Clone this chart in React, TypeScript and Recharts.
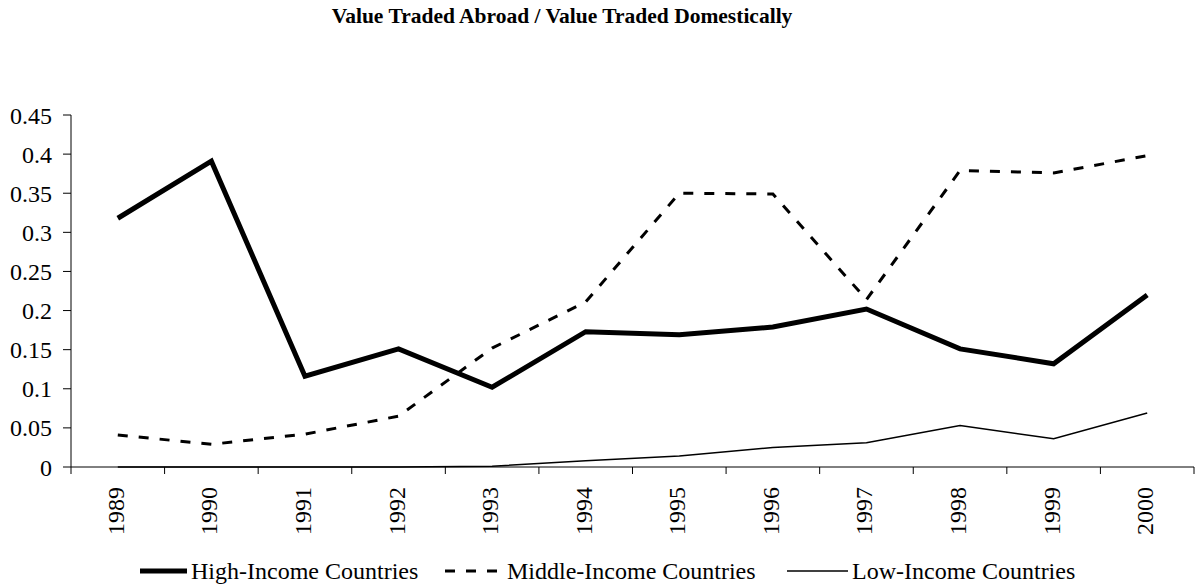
import { LineChart, Line, XAxis, YAxis } from "recharts";

const years = ["1989", "1990", "1991", "1992", "1993", "1994", "1995", "1996", "1997", "1998", "1999", "2000"];
const highIncome = [0.318, 0.391, 0.116, 0.151, 0.102, 0.173, 0.169, 0.179, 0.202, 0.151, 0.132, 0.22];
const middleIncome = [0.041, 0.029, 0.042, 0.065, 0.152, 0.211, 0.35, 0.349, 0.214, 0.379, 0.376, 0.398];
const lowIncome = [0, 0, 0, 0, 0.001, 0.008, 0.014, 0.025, 0.031, 0.053, 0.036, 0.069];
const yTicks = [0, 0.05, 0.1, 0.15, 0.2, 0.25, 0.3, 0.35, 0.4, 0.45];

const seriesMeta = [
  { key: "high", label: "High-Income Countries", width: 5, dash: undefined as string | undefined, sample: 47, left: 140 },
  { key: "middle", label: "Middle-Income Countries", width: 3, dash: "10 11", sample: 53, left: 445 },
  { key: "low", label: "Low-Income Countries", width: 1.5, dash: undefined as string | undefined, sample: 61, left: 787 },
];

// x sits in the middle of each category band, boundaries get the tick marks
const data = years.map((year, i) => ({
  x: i + 0.5,
  year,
  high: highIncome[i],
  middle: middleIncome[i],
  low: lowIncome[i],
}));

const xTicks: number[] = [];
for (let i = 0; i <= years.length * 2; i++) xTicks.push(i / 2);

const FONT = "'Liberation Serif', 'Times New Roman', serif";

function XTick(props: any) {
  const { x, y, payload } = props;
  const v = payload.value as number;
  if (Number.isInteger(v)) {
    return <line x1={x} x2={x} y1={y} y2={y + 7} stroke="#000" strokeWidth={1} />;
  }
  const label = years[Math.floor(v)];
  return (
    <text
      x={0}
      y={0}
      transform={`translate(${x + 6},${y + 20}) rotate(-90)`}
      textAnchor="end"
      fontSize={24}
      fontFamily={FONT}
      fill="#000"
    >
      {label}
    </text>
  );
}

function LegendRow() {
  return (
    <>
      {seriesMeta.map((s) => (
        <div
          key={s.key}
          style={{
            position: "absolute",
            left: s.left,
            top: 558,
            height: 26,
            display: "flex",
            alignItems: "center",
            fontFamily: FONT,
            fontSize: 24,
            lineHeight: "26px",
            color: "#000",
            whiteSpace: "nowrap",
          }}
        >
          <svg width={s.sample} height={10} style={{ display: "block" }}>
            <line x1={0} x2={s.sample} y1={5} y2={5} stroke="#000" strokeWidth={s.width} strokeDasharray={s.dash} />
          </svg>
          <span style={{ marginLeft: s.key === "middle" ? 9 : 4 }}>{s.label}</span>
        </div>
      ))}
    </>
  );
}

export default function App() {
  return (
    <div style={{ position: "absolute", left: 0, top: 0, width: 1195, height: 584, background: "#fff", overflow: "hidden" }}>
      <div
        style={{
          position: "absolute",
          left: 0,
          width: 1124,
          top: 4,
          textAlign: "center",
          fontFamily: FONT,
          fontWeight: "bold",
          fontSize: 21.5,
          color: "#000",
        }}
      >
        Value Traded Abroad / Value Traded Domestically
      </div>
      <LineChart width={1195} height={584} data={data} margin={{ top: 115, right: 1, left: 0, bottom: 0 }}>
        <XAxis
          dataKey="x"
          type="number"
          domain={[0, years.length]}
          ticks={xTicks}
          interval={0}
          tick={<XTick />}
          tickLine={false}
          tickSize={0}
          tickMargin={0}
          axisLine={{ stroke: "#000", strokeWidth: 1 }}
          height={117}
        />
        <YAxis
          domain={[0, 0.45]}
          ticks={yTicks}
          interval={0}
          width={71}
          tickSize={8}
          tickMargin={11}
          tickLine={{ stroke: "#000" }}
          axisLine={{ stroke: "#000", strokeWidth: 1 }}
          tick={{ fontSize: 24, fontFamily: FONT, fill: "#000" }}
          tickFormatter={(v: number) => String(Number(v.toFixed(2)))}
        />
        {seriesMeta.map((s) => (
          <Line
            key={s.key}
            type="linear"
            dataKey={s.key}
            stroke="#000"
            strokeWidth={s.width}
            strokeDasharray={s.dash}
            dot={false}
            activeDot={false}
            isAnimationActive={false}
          />
        ))}
      </LineChart>
      <LegendRow />
    </div>
  );
}
